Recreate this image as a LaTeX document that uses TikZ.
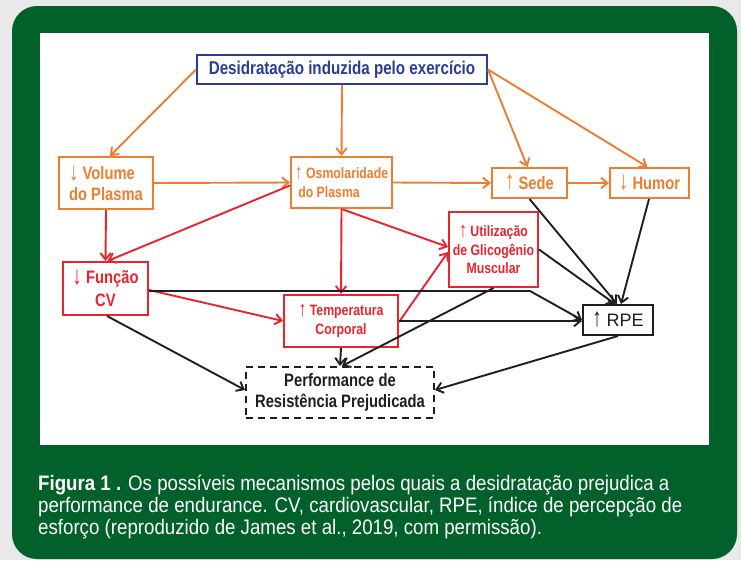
\documentclass[tikz,border=0pt]{standalone}
\usepackage{fontspec}
\setmainfont{Liberation Sans}
\newfontfamily\condf[FakeStretch=0.82]{Liberation Sans}
\newfontfamily\capf[FakeStretch=0.89]{Liberation Sans}
\newfontfamily\arrf{Liberation Sans}
\usetikzlibrary{arrows.meta,calc}
\definecolor{bgC}{RGB}{233,233,234}
\definecolor{greenC}{RGB}{2,97,42}
\definecolor{orangeC}{RGB}{238,125,48}
\definecolor{redC}{RGB}{234,36,44}
\definecolor{blueC}{RGB}{42,62,145}
\definecolor{darkC}{RGB}{30,31,33}
\newcommand\uparr{\raisebox{-0.05em}{\scalebox{1.05}[1.45]{\arrf\mdseries ↑}}}
\newcommand\dnarr{\raisebox{-0.05em}{\scalebox{1.05}[1.45]{\arrf\mdseries ↓}}}
\newcommand\nodebig{\condf\bfseries\fontsize{18}{21}\selectfont}
\newcommand\nodesmall{\condf\bfseries\fontsize{15}{18.5}\selectfont}
\tikzset{
  box/.style={draw, line width=2pt, inner sep=0pt, align=center, font=\nodebig},
  obox/.style={box, draw=orangeC, text=orangeC},
  rbox/.style={box, draw=redC, text=redC},
  tip/.style={-{Straight Barb[length=6.5pt,width=10.5pt]}},
  oarr/.style={draw=orangeC, line width=1.9pt, tip},
  rarr/.style={draw=redC, line width=1.9pt, tip},
  karr/.style={draw=darkC, line width=1.9pt, tip},
  captxt/.style={anchor=base west, inner sep=0pt, text=white, font=\capf\fontsize{21}{22}\selectfont}
}
\begin{document}
\begin{tikzpicture}[x=1pt,y=-1pt]
\useasboundingbox (0,0) rectangle (741,560);
\fill[bgC] (0,0) rectangle (741,560);
\fill[greenC, rounded corners=25pt] (12,6) rectangle (737,559);
\fill[white] (40,33) rectangle (709,445);

% nodes
\node[box, draw=blueC, text=blueC, minimum width=290pt, minimum height=29pt, font=\condf\bfseries\fontsize{18.5}{21}\selectfont] (desid) at (342,69.5) {Desidratação induzida pelo exercício};
\node[obox, minimum width=94pt, minimum height=52pt, align=left] (vol) at (106,183) {\dnarr\ Volume\\do Plasma};
\node[obox, minimum width=101pt, minimum height=51pt, align=left, font=\nodesmall] (osmo) at (341.5,182.5) {\uparr\ Osmolaridade\\\ do Plasma};
\node[obox, minimum width=75pt, minimum height=30pt] (sede) at (529.5,183) {\uparr\ Sede};
\node[obox, minimum width=79pt, minimum height=30pt] (humor) at (649.5,183) {\dnarr\ Humor};
\node[rbox, minimum width=85pt, minimum height=53pt, font=\condf\bfseries\fontsize{18}{23}\selectfont] (func) at (105.5,288.5) {\dnarr\ Função\\CV};
\node[rbox, minimum width=89pt, minimum height=75pt, font=\nodesmall] (util) at (493.5,249.5) {\uparr\ Utilização\\de Glicogênio\\Muscular};
\node[rbox, minimum width=114pt, minimum height=52pt, font=\condf\bfseries\fontsize{15}{19}\selectfont] (temp) at (341,321) {\uparr\ Temperatura\\Corporal};
\node[box, draw=darkC, text=darkC, minimum width=70pt, minimum height=30pt, font=\fontsize{18}{21}\selectfont] (rpe) at (618,320) {\uparr\ RPE};
\node[box, draw=darkC, text=darkC, dash pattern=on 7pt off 5pt, minimum width=188pt, minimum height=51pt] (perf) at (340,392.5) {Performance de\\Resistência Prejudicada};

% orange connectors
\draw[oarr] (desid.west) -- ([xshift=4pt]vol.north);
\draw[oarr] (desid.south) -- (osmo.north);
\draw[oarr] (desid.east) -- ([xshift=-2pt]sede.north);
\draw[oarr] (desid.east) -- ([xshift=-2pt]humor.north);
\draw[oarr] (vol.east) -- (osmo.west);
\draw[oarr] (osmo.east) -- (sede.west);
\draw[oarr] (sede.east) -- (humor.west);

% red connectors
\draw[rarr] (vol.south) -- (func.north);
\draw[rarr] ([yshift=-3pt]osmo.west) -- ([xshift=2pt]func.north);
\draw[rarr] (osmo.south) -- (temp.north);
\draw[rarr] (osmo.south) -- ([yshift=2.5pt]util.west);
\draw[rarr] ([yshift=-1.5pt]func.east) -- (temp.west);
\draw[rarr] ([yshift=-1pt]temp.east) -- ([yshift=-2.5pt]util.west);

% black connectors
\coordinate (bend) at (530,291);
\draw[karr] ([yshift=-2.5pt]func.east) -- (bend) -- (rpe.west);
\draw[karr] (temp.east) -- (temp.east -| rpe.west);
\draw[karr] ([xshift=1.5pt]func.south) -- ([yshift=2.5pt]perf.west);
\draw[karr] (temp.south) -- (perf.north);
\draw[karr] (util.south) -- ([xshift=2pt]perf.north);
\draw[karr] (util.east) -- ([xshift=-3pt]rpe.north);
\draw[karr] (sede.south) -- ([xshift=-1pt]rpe.north);
\draw[karr] ([xshift=-0.5pt]humor.south) -- ([xshift=3pt]rpe.north);
\draw[karr] (rpe.south) -- ([yshift=2.5pt]perf.east);

% caption
\node[captxt] (cap1) at (38,490) {{\bfseries Figura 1 .} Os possíveis mecanismos pelos quais a desidratação prejudica a};
\node[captxt] (cap2) at (38,512) {performance de endurance. CV, cardiovascular, RPE, índice de percepção de};
\node[captxt] (cap3) at (38,534) {esforço (reproduzido de James et al., 2019, com permissão).};
\end{tikzpicture}
\end{document}
